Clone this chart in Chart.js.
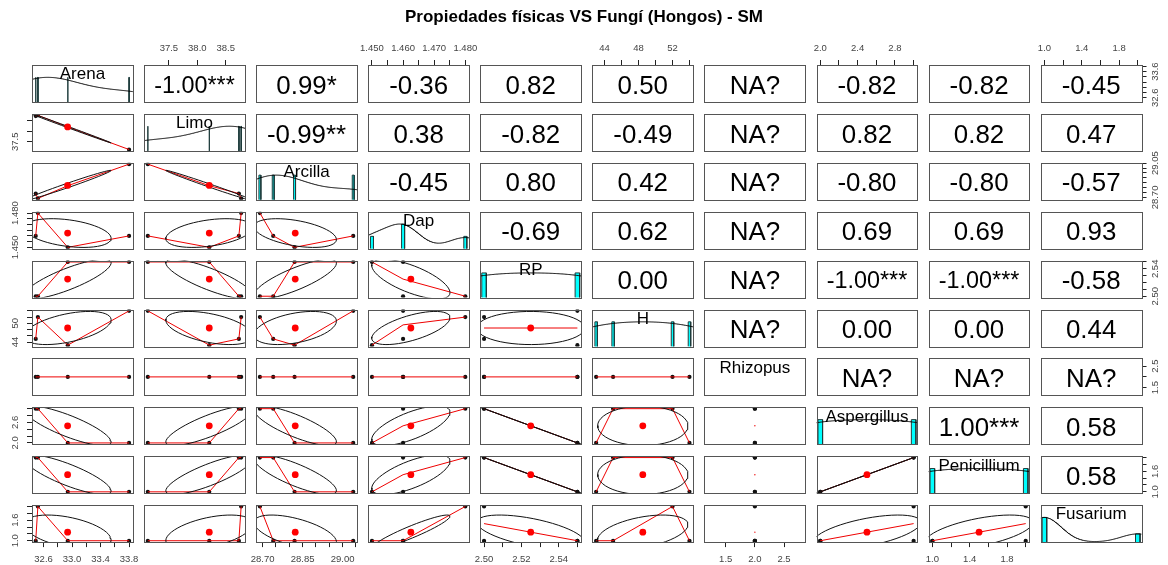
<!DOCTYPE html>
<html>
<head>
<meta charset="utf-8">
<title>Propiedades físicas VS Fungí (Hongos) - SM</title>
<script src="https://cdn.jsdelivr.net/npm/chart.js@4.4.1/dist/chart.umd.min.js"></script>
<style>
  html, body { margin: 0; padding: 0; background: #ffffff; }
  #wrap { width: 1168px; height: 565px; }
</style>
</head>
<body>
<div id="wrap"><canvas id="pairs" width="1168" height="565"></canvas></div>
<script>
// ---- variables (one observation per sample) ----
const variables = ['Arena', 'Limo', 'Arcilla', 'Dap', 'RP', 'H', 'Rhizopus', 'Aspergillus', 'Penicillium', 'Fusarium'];
const arena       = [33.80, 32.94, 32.52, 32.49];
const limo        = [37.13, 38.21, 38.77, 38.73];
const arcilla     = [29.04, 28.82, 28.69, 28.74];
const dap         = [1.46, 1.45, 1.48, 1.46];
const rp          = [2.55, 2.55, 2.50, 2.50];
const h           = [54, 43, 52, 45];
const rhizopus    = [2, 2, 2, 2];
const aspergillus = [2, 2, 3, 3];
const penicillium = [1, 1, 2, 2];
const fusarium    = [1, 1, 2, 1];

// ---- correlation labels, upper triangle (row by row) ----
const corrArena       = ['-1.00***', '0.99*', '-0.36', '0.82', '0.50', 'NA?', '-0.82', '-0.82', '-0.45'];
const corrLimo        = ['-0.99**', '0.38', '-0.82', '-0.49', 'NA?', '0.82', '0.82', '0.47'];
const corrArcilla     = ['-0.45', '0.80', '0.42', 'NA?', '-0.80', '-0.80', '-0.57'];
const corrDap         = ['-0.69', '0.62', 'NA?', '0.69', '0.69', '0.93'];
const corrRP          = ['0.00', 'NA?', '-1.00***', '-1.00***', '-0.58'];
const corrH           = ['NA?', '0.00', '0.00', '0.44'];
const corrRhizopus    = ['NA?', 'NA?', 'NA?'];
const corrAspergillus = ['1.00***', '0.58'];
const corrPenicillium = ['0.58'];

// ---- tick positions ----
const arenaTicks       = [32.6, 32.8, 33.0, 33.2, 33.4, 33.6, 33.8];
const limoTicks        = [37.5, 38.0, 38.5];
const arcillaTicks     = [28.70, 28.75, 28.80, 28.85, 28.90, 28.95, 29.00, 29.05];
const dapTicks         = [1.450, 1.455, 1.460, 1.465, 1.470, 1.475, 1.480];
const rpTicks          = [2.50, 2.51, 2.52, 2.53, 2.54, 2.55];
const hTicks           = [44, 46, 48, 50, 52, 54];
const rhizopusTicks    = [1.5, 2.0, 2.5];
const aspergillusTicks = [2.0, 2.2, 2.4, 2.6, 2.8, 3.0];
const penicilliumTicks = [1.0, 1.2, 1.4, 1.6, 1.8, 2.0];
const fusariumTicks    = [1.0, 1.2, 1.4, 1.6, 1.8, 2.0];

// ---- tick labels on the horizontal axes (bottom for odd columns, top for even) ----
const arenaXLabels       = ['32.6', '33.0', '33.4', '33.8'];
const limoXLabels        = ['37.5', '38.0', '38.5'];
const arcillaXLabels     = ['28.70', '28.85', '29.00'];
const dapXLabels         = ['1.450', '1.460', '1.470', '1.480'];
const rpXLabels          = ['2.50', '2.52', '2.54'];
const hXLabels           = ['44', '48', '52'];
const rhizopusXLabels    = ['1.5', '2.0', '2.5'];
const aspergillusXLabels = ['2.0', '2.4', '2.8'];
const penicilliumXLabels = ['1.0', '1.4', '1.8'];
const fusariumXLabels    = ['1.0', '1.4', '1.8'];

// ---- tick labels on the vertical axes (right for odd rows, left for even) ----
const arenaYLabels       = ['32.6', '33.6'];
const limoYLabels        = ['37.5'];
const arcillaYLabels     = ['28.70', '29.05'];
const dapYLabels         = ['1.450', '1.480'];
const rpYLabels          = ['2.50', '2.54'];
const hYLabels           = ['44', '50'];
const rhizopusYLabels    = ['1.5', '2.5'];
const aspergillusYLabels = ['2.0', '2.6'];
const penicilliumYLabels = ['1.0', '1.6'];
const fusariumYLabels    = ['1.0', '1.6'];

const series     = [arena, limo, arcilla, dap, rp, h, rhizopus, aspergillus, penicillium, fusarium];
const tickValues = [arenaTicks, limoTicks, arcillaTicks, dapTicks, rpTicks, hTicks, rhizopusTicks, aspergillusTicks, penicilliumTicks, fusariumTicks];
const xLabels    = [arenaXLabels, limoXLabels, arcillaXLabels, dapXLabels, rpXLabels, hXLabels, rhizopusXLabels, aspergillusXLabels, penicilliumXLabels, fusariumXLabels];
const yLabels    = [arenaYLabels, limoYLabels, arcillaYLabels, dapYLabels, rpYLabels, hYLabels, rhizopusYLabels, aspergillusYLabels, penicilliumYLabels, fusariumYLabels];
const upperText  = [corrArena, corrLimo, corrArcilla, corrDap, corrRP, corrH, corrRhizopus, corrAspergillus, corrPenicillium];

// ---- look ----
const N = variables.length;
const FONT = '"Liberation Sans", Arial, Helvetica, sans-serif';
const AXIS_FONT = 9.5;
const GRID = { left: 32, top: 65, dx: 112.08, dy: 48.9, w: 100.8, h: 37 };
const COL_POINT = '#111111';
const COL_SMOOTH = '#ee0000';
const COL_MEAN = '#ff0000';
const COL_HIST = '#00ffff';
const COL_FRAME = '#555555';
const COL_AXIS_TEXT = '#444444';

function cell(r, c) {
  const x = GRID.left + c * GRID.dx, y = GRID.top + r * GRID.dy;
  return { left: x, top: y, right: x + GRID.w, bottom: y + GRID.h };
}

// ---- statistics used by the panels ----
const mean = v => v.reduce((a, b) => a + b, 0) / v.length;
function sd(v) {
  const m = mean(v);
  return Math.sqrt(v.reduce((a, b) => a + (b - m) * (b - m), 0) / (v.length - 1));
}
function pearson(a, b) {
  const ma = mean(a), mb = mean(b);
  let sab = 0, saa = 0, sbb = 0;
  for (let i = 0; i < a.length; i++) {
    sab += (a[i] - ma) * (b[i] - mb); saa += (a[i] - ma) ** 2; sbb += (b[i] - mb) ** 2;
  }
  return sab / Math.sqrt(saa * sbb);
}
function quantile(v, p) {
  const s = [...v].sort((a, b) => a - b);
  const pos = (s.length - 1) * p, lo = Math.floor(pos), hi = Math.ceil(pos);
  return s[lo] + (s[hi] - s[lo]) * (pos - lo);
}
function paddedRange(v) {
  let lo = Math.min(...v), hi = Math.max(...v);
  if (lo === hi) { const d = lo === 0 ? 1 : 0.4 * Math.abs(lo); lo -= d; hi += d; }
  const pad = (hi - lo) * 0.04;
  return [lo - pad, hi + pad];
}
// local smoother: with this few samples the fit reduces to the mean of y at each x
function smoothLine(xs, ys) {
  const groups = new Map();
  xs.forEach((x, i) => { if (!groups.has(x)) groups.set(x, []); groups.get(x).push(ys[i]); });
  return [...groups.keys()].sort((a, b) => a - b).map(x => ({ x, y: mean(groups.get(x)) }));
}
// correlation ellipse at one standard deviation
function ellipse(xm, ym, xs, ys, r) {
  const theta = r !== 0 ? Math.sign(r) / Math.SQRT2 : 1 / Math.SQRT2;
  const a = Math.sqrt(1 + r), b = Math.sqrt(Math.max(0, 1 - r));
  const pts = [];
  for (let k = 0; k <= 51; k++) {
    const t = k * 2 * Math.PI / 51, cs = Math.cos(t), sn = Math.sin(t);
    pts.push({ x: theta * (a * cs - b * sn) * xs + xm, y: theta * (a * cs + b * sn) * ys + ym });
  }
  return pts;
}
// kernel density, rescaled so that its peak is 1
function densityCurve(v) {
  const iqr = (quantile(v, 0.75) - quantile(v, 0.25)) / 1.34;
  const bw = 1.06 * Math.min(sd(v), iqr) * Math.pow(v.length, -0.2) * 1.2;
  if (!(bw > 0)) return null;
  const lo = Math.min(...v) - 3 * bw, hi = Math.max(...v) + 3 * bw;
  const pts = [];
  for (let k = 0; k < 512; k++) {
    const x = lo + (hi - lo) * k / 511;
    let y = 0;
    for (const xi of v) y += Math.exp(-0.5 * ((x - xi) / bw) ** 2);
    pts.push({ x, y });
  }
  const top = Math.max(...pts.map(p => p.y));
  return pts.map(p => ({ x: p.x, y: p.y / top }));
}
// one thin bar per distinct value, height = count / max count
function histBars(v) {
  const counts = new Map();
  v.forEach(x => counts.set(x, (counts.get(x) || 0) + 1));
  const keys = [...counts.keys()].sort((a, b) => a - b);
  if (keys.length < 2) return [];
  let minGap = Infinity;
  for (let i = 1; i < keys.length; i++) minGap = Math.min(minGap, keys[i] - keys[i - 1]);
  const half = minGap * (keys.length - 1) / 41;
  const maxCount = Math.max(...counts.values());
  return keys.map(k => {
    const y = counts.get(k) / maxCount;
    return [{ x: k - half, y: 0 }, { x: k - half, y }, { x: k + half, y }, { x: k + half, y: 0 }];
  });
}
function pick(list, v) {
  for (const s of list) if (Math.abs(parseFloat(s) - v) < 1e-7) return s;
  return '';
}

// ---- datasets ----
const datasets = [];
for (let r = 0; r < N; r++) {
  for (let c = 0; c < N; c++) {
    const base = { panelRow: r, panelCol: c, clip: false };
    if (r > c) {
      const xs = series[c], ys = series[r];
      datasets.push({ ...base, type: 'scatter', xAxisID: 'x' + c, yAxisID: 'y' + r,
        data: xs.map((x, i) => ({ x, y: ys[i] })),
        pointRadius: 2.1, pointBackgroundColor: COL_POINT, pointBorderWidth: 0, order: 4 });
      const sm = smoothLine(xs, ys);
      datasets.push({ ...base, type: 'line', xAxisID: 'x' + c, yAxisID: 'y' + r, data: sm,
        borderColor: COL_SMOOTH, borderWidth: 1, fill: false, tension: 0,
        pointRadius: sm.length === 1 ? 0.7 : 0, pointBackgroundColor: COL_SMOOTH, pointBorderWidth: 0, order: 3 });
      if (sd(xs) > 0 && sd(ys) > 0) {
        const mx = mean(xs), my = mean(ys);
        datasets.push({ ...base, type: 'line', xAxisID: 'x' + c, yAxisID: 'y' + r,
          data: ellipse(mx, my, sd(xs), sd(ys), pearson(xs, ys)),
          borderColor: '#111111', borderWidth: 1, fill: false, tension: 0, pointRadius: 0, order: 2 });
        datasets.push({ ...base, type: 'scatter', xAxisID: 'x' + c, yAxisID: 'y' + r,
          data: [{ x: mx, y: my }], pointRadius: 3.4, pointBackgroundColor: COL_MEAN, pointBorderWidth: 0, order: 1 });
      }
    } else if (r === c) {
      for (const bar of histBars(series[r])) {
        datasets.push({ ...base, type: 'line', xAxisID: 'x' + c, yAxisID: 'h' + r, data: bar,
          borderColor: '#1e3c3c', borderWidth: 1, backgroundColor: COL_HIST, fill: 'origin',
          tension: 0, pointRadius: 0, order: 4 });
      }
      const dens = densityCurve(series[r]);
      if (dens) {
        datasets.push({ ...base, type: 'line', xAxisID: 'x' + c, yAxisID: 'h' + r, data: dens,
          borderColor: '#000000', borderWidth: 1, fill: false, tension: 0, pointRadius: 0, order: 3 });
      }
    }
  }
}

// ---- scales: one x scale per column, one y scale per row, one count scale per diagonal cell ----
const scales = {};
const tickGrid = { display: true, drawOnChartArea: false, drawTicks: true, tickLength: 5, color: '#222222', lineWidth: 1 };
for (let i = 0; i < N; i++) {
  const [xmin, xmax] = paddedRange(series[i]);
  const onTop = i % 2 === 1;
  scales['x' + i] = {
    type: 'linear', axis: 'x', position: onTop ? 'top' : 'bottom', min: xmin, max: xmax, bounds: 'data',
    grid: tickGrid, border: { display: false },
    ticks: { display: true, autoSkip: false, maxRotation: 0, minRotation: 0, padding: onTop ? 6 : 7,
      color: COL_AXIS_TEXT, font: { family: FONT, size: AXIS_FONT }, callback: v => pick(xLabels[i], v) },
    afterBuildTicks: s => { s.ticks = tickValues[i].map(v => ({ value: v })); }
  };
  scales['y' + i] = {
    type: 'linear', axis: 'y', position: i % 2 === 1 ? 'left' : 'right', min: xmin, max: xmax, bounds: 'data',
    grid: tickGrid, border: { display: false },
    ticks: { display: false },
    afterBuildTicks: s => { s.ticks = tickValues[i].map(v => ({ value: v })); }
  };
  scales['h' + i] = { type: 'linear', axis: 'y', position: 'left', display: false, min: 0, max: 1.5, bounds: 'data' };
}

function place(s, l, r, t, b) {
  s.left = l; s.right = r; s.top = t; s.bottom = b; s.width = r - l; s.height = b - t;
  s.configure();
}

const pairsPanels = {
  id: 'pairsPanels',
  afterLayout(chart) {
    for (let i = 0; i < N; i++) {
      const first = cell(0, i), last = cell(N - 1, i);
      const sx = chart.scales['x' + i];
      if (sx.options.position === 'top') place(sx, first.left, first.right, first.top - 30, first.top);
      else place(sx, last.left, last.right, last.bottom, last.bottom + 30);
      const rowL = cell(i, 0), rowR = cell(i, N - 1);
      const sy = chart.scales['y' + i];
      if (sy.options.position === 'left') place(sy, rowL.left - 30, rowL.left, rowL.top, rowL.bottom);
      else place(sy, rowR.right, rowR.right + 30, rowR.top, rowR.bottom);
      const d = cell(i, i);
      place(chart.scales['h' + i], d.left, d.right, d.top, d.bottom);
    }
    chart.chartArea = { left: 0, top: 0, right: chart.width, bottom: chart.height, width: chart.width, height: chart.height };
  },
  beforeDatasetDraw(chart, args) {
    const ds = chart.data.datasets[args.index];
    const p = cell(ds.panelRow, ds.panelCol);
    const ctx = chart.ctx;
    ctx.save();
    ctx.beginPath();
    ctx.rect(p.left, p.top, p.right - p.left, p.bottom - p.top);
    ctx.clip();
  },
  afterDatasetDraw(chart) {
    chart.ctx.restore();
  },
  afterDraw(chart) {
    const ctx = chart.ctx;
    ctx.save();
    // correlation text in the upper triangle
    ctx.font = '100px ' + FONT;
    const refW = ctx.measureText('0.12***').width / 100;
    ctx.fillStyle = '#000000';
    ctx.textAlign = 'center';
    ctx.textBaseline = 'alphabetic';
    for (let r = 0; r < N - 1; r++) {
      upperText[r].forEach((txt, k) => {
        const c = r + 1 + k, p = cell(r, c);
        ctx.font = '100px ' + FONT;
        const w = ctx.measureText(txt).width / 100;
        const size = 0.8 * GRID.w / Math.max(refW, w);
        ctx.font = size + 'px ' + FONT;
        ctx.fillText(txt, (p.left + p.right) / 2, (p.top + p.bottom) / 2 + 0.39 * size);
      });
    }
    // variable names on the diagonal
    ctx.font = '17px ' + FONT;
    for (let i = 0; i < N; i++) {
      const p = cell(i, i);
      ctx.fillText(variables[i], (p.left + p.right) / 2, p.top + 14.3);
    }
    // rotated tick labels on the vertical axes
    ctx.font = AXIS_FONT + 'px ' + FONT;
    ctx.fillStyle = COL_AXIS_TEXT;
    ctx.textBaseline = 'middle';
    for (let r = 0; r < N; r++) {
      const s = chart.scales['y' + r];
      const onLeft = s.options.position === 'left';
      const p = cell(r, onLeft ? 0 : N - 1);
      const x = onLeft ? p.left - 17 : p.right + 13.5;
      for (const lab of yLabels[r]) {
        const y = s.getPixelForValue(parseFloat(lab));
        ctx.save();
        ctx.translate(x, y);
        ctx.rotate(-Math.PI / 2);
        ctx.fillText(lab, 0, 0);
        ctx.restore();
      }
    }
    // panel frames
    ctx.strokeStyle = COL_FRAME;
    ctx.lineWidth = 1;
    for (let r = 0; r < N; r++) {
      for (let c = 0; c < N; c++) {
        const p = cell(r, c);
        const l = Math.round(p.left) + 0.5, t = Math.round(p.top) + 0.5;
        ctx.strokeRect(l, t, Math.round(p.right) - Math.round(p.left), Math.round(p.bottom) - Math.round(p.top));
      }
    }
    ctx.restore();
  }
};

new Chart(document.getElementById('pairs'), {
  type: 'scatter',
  data: { datasets },
  options: {
    responsive: false,
    devicePixelRatio: 1,
    animation: false,
    events: [],
    scales,
    plugins: {
      legend: { display: false },
      tooltip: { enabled: false },
      title: {
        display: true,
        text: 'Propiedades físicas VS Fungí (Hongos) - SM',
        color: '#000000',
        font: { family: FONT, size: 17, weight: 'bold' },
        padding: { top: 7, bottom: 4 }
      }
    }
  },
  plugins: [pairsPanels]
});
</script>
</body>
</html>
